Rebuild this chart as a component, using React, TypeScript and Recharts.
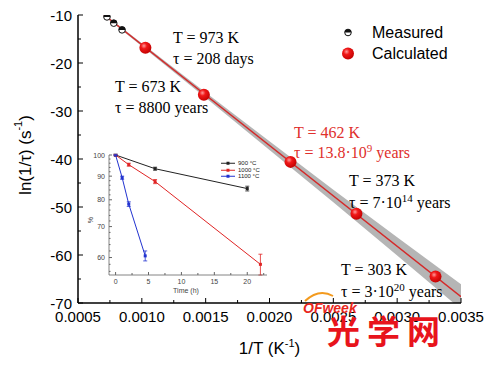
import React from 'react'
import {ComposedChart, LineChart, Line, Area, Scatter, XAxis, YAxis, Legend, ErrorBar} from 'recharts'

// main plot: ln(1/tau) against 1/T
const measuredInvT = [0.000727, 0.00078, 0.000845]
const measuredLn = [-10.4, -11.7, -13.1]
const calcTemps = [973, 673, 462, 373, 303]
const calcLn = [-16.8, -26.6, -40.6, -51.4, -64.5]
const fitInvT = [0.0007, 0.0035]
const fitLn = [-9.9, -68.7]
const bandInvT = [0.0007, 0.001, 0.0015, 0.002, 0.0025, 0.003, 0.0035]
const bandLow = [-10.1, -16.5, -27.25, -38.1, -49.0, -60.1, -71.3]
const bandHigh = [-9.7, -15.9, -26.15, -36.3, -46.4, -56.3, -66.1]

const xTicks = [0.0005, 0.00075, 0.001, 0.00125, 0.0015, 0.00175, 0.002, 0.00225, 0.0025, 0.00275, 0.003, 0.00325, 0.0035]
const xMajor = [0.0005, 0.001, 0.0015, 0.002, 0.0025, 0.003, 0.0035]
const yTicks = [-70, -65, -60, -55, -50, -45, -40, -35, -30, -25, -20, -15, -10]

// inset: % remaining against time (h)
const t900 = [0, 6, 20]
const p900 = [100, 93.4, 84.6]
const e900 = [0.4, 0.7, 1.0]
const t1000 = [0, 2, 6, 22]
const p1000 = [100, 95.3, 87.6, 58]
const e1000 = [0.3, 0.7, 0.9, 3]
const t1100 = [0, 1, 2, 4.5]
const p1100 = [100, 89.3, 78.3, 60.5]
const e1100 = [0.3, 0.7, 0.9, 1.5]
const insetXTicks = [0, 2.5, 5, 7.5, 10, 12.5, 15, 17.5, 20, 22.5]
const insetYTicks = [56, 58, 60, 62, 64, 66, 68, 70, 72, 74, 76, 78, 80, 82, 84, 86, 88, 90, 92, 94, 96, 98, 100]
const insetSeries = [
  {name: '900 °C', color: '#222222', t: t900, p: p900, e: e900},
  {name: '1000 °C', color: '#e02424', t: t1000, p: p1000, e: e1000},
  {name: '1100 °C', color: '#2233d0', t: t1100, p: p1100, e: e1100},
]

const measuredData = measuredInvT.map((x, i) => ({x, y: measuredLn[i]}))
const calcData = calcTemps.map((T, i) => ({x: 1 / T, y: calcLn[i]}))
const fitData = fitInvT.map((x, i) => ({x, y: fitLn[i]}))
const bandData = bandInvT.map((x, i) => ({x, range: [bandLow[i], bandHigh[i]]}))

const SANS = 'Liberation Sans, Arial, sans-serif'
const SERIF = 'Liberation Serif, Times New Roman, serif'
const RED = '#e0302c'

type Side = 'left' | 'right' | 'top' | 'bottom'

// inward tick marks + optional label, drawn from the axis' own tick positions
function tickMaker(
  side: Side,
  gap: number,
  majorLen: number,
  minorLen: number,
  isMajor: (v: number) => boolean,
  stroke: string,
  label?: (v: number) => string,
  fontSize = 15,
  textColor = '#000'
) {
  return (p: any) => {
    const v = Number(p.payload.value)
    const major = isMajor(v)
    const len = major ? majorLen : minorLen
    let x1 = p.x, y1 = p.y, x2 = p.x, y2 = p.y
    let anchor = 'middle'
    let base = 'central'
    if (side === 'bottom') {
      y1 = p.y - gap
      y2 = y1 - len
      base = 'hanging'
    }
    if (side === 'top') {
      y1 = p.y + gap
      y2 = y1 + len
    }
    if (side === 'left') {
      x1 = p.x + gap
      x2 = x1 + len
      anchor = 'end'
    }
    if (side === 'right') {
      x1 = p.x - gap
      x2 = x1 - len
    }
    return (
      <g>
        <line x1={x1} y1={y1} x2={x2} y2={y2} stroke={stroke} strokeWidth={1} />
        {label && major ? (
          <text x={p.x} y={p.y} textAnchor={anchor} dominantBaseline={base} fontSize={fontSize} fontFamily={SANS} fill={textColor}>
            {label(v)}
          </text>
        ) : null}
      </g>
    )
  }
}

const isXMajor = (v: number) => xMajor.some(m => Math.abs(m - v) < 1e-9)
const isYMajor = (v: number) => v % 10 === 0

function MeasuredMark({cx, cy}: {cx: number; cy: number}) {
  const r = 3.3
  return (
    <g>
      <circle cx={cx} cy={cy} r={r} fill="#fff" stroke="#111" strokeWidth={1} />
      <path d={`M${cx - r},${cy} A${r},${r} 0 0 1 ${cx + r},${cy} Z`} fill="#111" />
    </g>
  )
}

function Ball({cx, cy, id}: {cx: number; cy: number; id: string}) {
  return (
    <g>
      <defs>
        <radialGradient id={id} cx="0.38" cy="0.35" r="0.7">
          <stop offset="0" stopColor="#ff9a9a" />
          <stop offset="0.35" stopColor="#f01818" />
          <stop offset="1" stopColor="#c00000" />
        </radialGradient>
      </defs>
      <circle cx={cx} cy={cy} r={6} fill={`url(#${id})`} />
    </g>
  )
}

const mainLegend = () => (
  <div style={{fontFamily: SANS, fontSize: 16, lineHeight: '21px', color: '#000'}}>
    <div style={{display: 'flex', alignItems: 'center'}}>
      <svg width={20} height={21}>
        <MeasuredMark cx={10} cy={10.5} />
      </svg>
      <span style={{marginLeft: 14}}>Measured</span>
    </div>
    <div style={{display: 'flex', alignItems: 'center'}}>
      <svg width={20} height={21}>
        <Ball cx={10} cy={10.5} id="legball" />
      </svg>
      <span style={{marginLeft: 14}}>Calculated</span>
    </div>
  </div>
)

const insetLegend = () => (
  <div style={{fontFamily: SANS, fontSize: 6, lineHeight: '6.5px', color: '#222'}}>
    {insetSeries.map(s => (
      <div key={s.name} style={{display: 'flex', alignItems: 'center'}}>
        <svg width={14} height={6.5}>
          <line x1={0} y1={3.25} x2={14} y2={3.25} stroke={s.color} strokeWidth={1} />
          <rect x={5.5} y={1.75} width={3} height={3} fill={s.color} />
        </svg>
        <span style={{marginLeft: 3}}>{s.name}</span>
      </div>
    ))}
  </div>
)

const squareDot = (color: string) => (p: any) => <rect key={p.index} x={p.cx - 1.5} y={p.cy - 1.5} width={3} height={3} fill={color} />

function Annot({x, y, color = '#000', lines}: {x: number; y: number; color?: string; lines: React.ReactNode[]}) {
  return (
    <text x={x} y={y} fontFamily={SERIF} fontSize={16} fill={color}>
      {lines}
    </text>
  )
}

function tau(pre: string, exp: string, post: string) {
  return [
    <tspan key="a">{pre}</tspan>,
    <tspan key="b" dy={-6} fontSize={11}>{exp}</tspan>,
    <tspan key="c" dy={6}>{post}</tspan>,
  ]
}

export default function App() {
  return (
    <div style={{position: 'absolute', left: 0, top: 0, width: 500, height: 367, background: '#fff'}}>
      <ComposedChart width={500} height={367} margin={{top: 15, right: 39, left: 0, bottom: 34}}>
        <XAxis
          dataKey="x"
          type="number"
          domain={[0.0005, 0.0035]}
          allowDataOverflow
          ticks={xTicks}
          interval={0}
          height={30}
          tickSize={0}
          tickMargin={8}
          tickLine={false}
          axisLine={{stroke: '#000', strokeWidth: 1.5}}
          tick={tickMaker('bottom', 8, 5, 3, isXMajor, '#000', v => v.toFixed(4))}
          label={{
            content: (props: any) => {
              const vb = props.viewBox
              return (
                <text x={vb.x + vb.width / 2} y={vb.y + 51} textAnchor="middle" fontFamily={SANS} fontSize={17}>
                  1/T (K<tspan dy={-7} fontSize={11}>-1</tspan>
                  <tspan dy={7}>)</tspan>
                </text>
              )
            },
          }}
        />
        <XAxis
          xAxisId="top"
          orientation="top"
          type="number"
          domain={[0.0005, 0.0035]}
          allowDataOverflow
          ticks={xTicks}
          interval={0}
          height={0}
          tickSize={0}
          tickMargin={0}
          tickLine={false}
          axisLine={{stroke: '#000', strokeWidth: 1.5}}
          tick={tickMaker('top', 0, 5, 3, isXMajor, '#000')}
        />
        <YAxis
          dataKey="y"
          type="number"
          domain={[-70, -10]}
          allowDataOverflow
          ticks={yTicks}
          interval={0}
          width={78}
          tickSize={0}
          tickMargin={6}
          tickLine={false}
          axisLine={{stroke: '#000', strokeWidth: 1.5}}
          tick={tickMaker('left', 6, 5, 3, isYMajor, '#000', v => String(v))}
          label={{
            content: (props: any) => {
              const vb = props.viewBox
              const cx = 25
              const cy = vb.y + vb.height / 2 - 4
              return (
                <text x={cx} y={cy} transform={`rotate(-90, ${cx}, ${cy})`} textAnchor="middle" dominantBaseline="central" fontFamily={SANS} fontSize={17}>
                  ln(1/τ) (s<tspan dy={-7} fontSize={11}>-1</tspan>
                  <tspan dy={7}>)</tspan>
                </text>
              )
            },
          }}
        />
        <YAxis
          yAxisId="right"
          orientation="right"
          type="number"
          domain={[-70, -10]}
          allowDataOverflow
          ticks={yTicks}
          interval={0}
          width={0}
          tickSize={0}
          tickMargin={0}
          tickLine={false}
          axisLine={{stroke: '#000', strokeWidth: 1.5}}
          tick={tickMaker('right', 0, 5, 3, isYMajor, '#000')}
        />
        <Area
          data={bandData}
          dataKey="range"
          type="linear"
          stroke="none"
          fill="#b5b5b5"
          fillOpacity={1}
          dot={false}
          activeDot={false}
          isAnimationActive={false}
        />
        <Line data={fitData} dataKey="y" type="linear" stroke="#d42a2a" strokeWidth={1.5} dot={false} activeDot={false} isAnimationActive={false} />
        <Scatter data={measuredData} dataKey="y" isAnimationActive={false} shape={(p: any) => <MeasuredMark cx={p.cx} cy={p.cy} />} />
        <Scatter data={calcData} dataKey="y" isAnimationActive={false} shape={(p: any) => <Ball cx={p.cx} cy={p.cy} id={`ball${p.index}`} />} />
        <Legend layout="vertical" align="center" verticalAlign="middle" content={mainLegend} wrapperStyle={{top: 22, left: 338, width: 130}} />
      </ComposedChart>

      <div style={{position: 'absolute', left: 80, top: 150}}>
        <LineChart width={190} height={150} margin={{top: 5, right: 3, left: 0, bottom: 0}}>
          <XAxis
            dataKey="t"
            type="number"
            domain={[-1, 23]}
            allowDataOverflow
            ticks={insetXTicks}
            interval={0}
            height={25}
            tickSize={0}
            tickMargin={4}
            tickLine={false}
            axisLine={{stroke: '#666', strokeWidth: 0.8}}
            tick={tickMaker('bottom', 4, 3, 2, v => v % 5 === 0, '#666', v => String(v), 7, '#444')}
            label={{
              content: (props: any) => {
                const vb = props.viewBox
                return (
                  <text x={vb.x + vb.width / 2 - 2} y={vb.y + 18} textAnchor="middle" fontFamily={SANS} fontSize={7} fill="#444">
                    Time (h)
                  </text>
                )
              },
            }}
          />
          <XAxis xAxisId="top" orientation="top" type="number" domain={[-1, 23]} height={0} tick={false} tickLine={false} axisLine={{stroke: '#666', strokeWidth: 0.8}} />
          <YAxis
            dataKey="p"
            type="number"
            scale="log"
            domain={[55, 100]}
            allowDataOverflow
            ticks={insetYTicks}
            interval={0}
            width={29}
            tickSize={0}
            tickMargin={4}
            tickLine={false}
            axisLine={{stroke: '#666', strokeWidth: 0.8}}
            tick={tickMaker('left', 4, 3, 1.5, v => v % 10 === 0, '#666', v => String(v), 7, '#444')}
            label={{
              content: () => (
                <text x={10} y={70} transform="rotate(-90, 10, 70)" textAnchor="middle" dominantBaseline="central" fontFamily={SANS} fontSize={7} fill="#444">
                  %
                </text>
              ),
            }}
          />
          <YAxis yAxisId="right" orientation="right" type="number" scale="log" domain={[55, 100]} width={0} tick={false} tickLine={false} axisLine={{stroke: '#666', strokeWidth: 0.8}} />
          {insetSeries.map(s => (
            <Line
              key={s.name}
              data={s.t.map((t, i) => ({t, p: s.p[i], e: s.e[i]}))}
              dataKey="p"
              type="linear"
              stroke={s.color}
              strokeWidth={1}
              dot={squareDot(s.color)}
              activeDot={false}
              isAnimationActive={false}
            >
              <ErrorBar dataKey="e" direction="y" width={2} stroke={s.color} strokeWidth={0.8} isAnimationActive={false} />
            </Line>
          ))}
          <Legend layout="vertical" align="center" verticalAlign="middle" content={insetLegend} wrapperStyle={{top: 10, left: 141, width: 48}} />
        </LineChart>
      </div>

      <svg width={500} height={367} style={{position: 'absolute', left: 0, top: 0, pointerEvents: 'none'}}>
        <Annot x={173} y={43} lines={['T = 973 K']} />
        <Annot x={173} y={64} lines={['τ = 208 days']} />
        <Annot x={115} y={92} lines={['T = 673 K']} />
        <Annot x={115} y={113} lines={['τ = 8800 years']} />
        <Annot x={294} y={138} color={RED} lines={['T = 462 K']} />
        <Annot x={294} y={158} color={RED} lines={tau('τ = 13.8·10', '9', ' years')} />
        <Annot x={349} y={186} lines={['T = 373 K']} />
        <Annot x={349} y={208} lines={tau('τ = 7·10', '14', ' years')} />
        <Annot x={341} y={275} lines={['T = 303 K']} />
        <Annot x={341} y={297} lines={tau('τ = 3·10', '20', ' years')} />
        <path d="M305,301 Q319,288 333,296" stroke="#f39a1e" strokeWidth={2} fill="none" />
        <text x={303} y={313} fontFamily={SANS} fontStyle="italic" fontWeight="bold" fontSize={14} fill="#e8261c">
          OFweek
        </text>
        <text x={327} y={344} fontFamily="Noto Sans CJK SC" fontWeight="bold" fontSize={33} letterSpacing={7} fill="#e8141c">
          光学网
        </text>
      </svg>
    </div>
  )
}
